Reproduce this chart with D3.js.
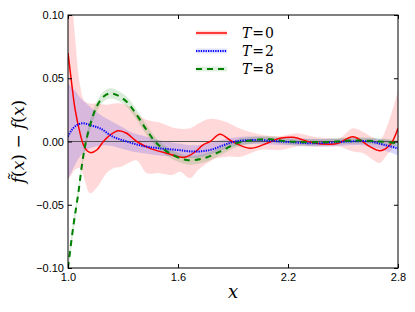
<!DOCTYPE html>
<html>
<head>
<meta charset="utf-8">
<script src="https://cdn.jsdelivr.net/npm/d3@7"></script>
<style>
  body { margin: 0; background: #fff; }
  .tick text { font-family: "Liberation Sans", Arial, sans-serif; font-size: 11px; fill: #000; }
  .tick line { stroke: #000; }
  .math { font-family: "DejaVu Serif", serif; }
</style>
</head>
<body>
<div id="chart"></div>
<script>
// tick values
const xTicks = [1.0, 1.6, 2.2, 2.8];
const yTicks = [-0.10, -0.05, 0.00, 0.05, 0.10];
const legendLabels = ["0", "2", "8"];

// T=0 (red) mean curve
const redX = [1.0, 1.02, 1.038, 1.065, 1.085, 1.105, 1.125, 1.157, 1.193, 1.229, 1.274, 1.32, 1.375, 1.447, 1.538, 1.602, 1.638, 1.693, 1.735, 1.775, 1.829, 1.895, 1.993, 2.075, 2.156, 2.227, 2.336, 2.429, 2.473, 2.555, 2.647, 2.702, 2.756, 2.8];
const redY = [0.070, 0.046, 0.026, 0.007, -0.003, -0.0075, -0.0088, -0.0067, 0.0, 0.005, 0.0085, 0.0065, 0.0, -0.0054, -0.0093, -0.012, -0.0125, -0.0083, -0.0028, 0.0, 0.0057, 0.0, -0.0054, -0.002, 0.0025, 0.0033, -0.001, -0.0022, -0.0015, 0.0038, -0.004, -0.0073, -0.0028, 0.0105];

// T=0 spread band
const redBandX = [1.0, 1.02, 1.04, 1.065, 1.09, 1.12, 1.16, 1.21, 1.25, 1.29, 1.33, 1.375, 1.43, 1.5, 1.57, 1.61, 1.665, 1.71, 1.76, 1.79, 1.81, 1.87, 1.94, 2.05, 2.16, 2.25, 2.34, 2.43, 2.48, 2.555, 2.61, 2.665, 2.70, 2.74, 2.78, 2.8];
const redHi = [0.14, 0.115, 0.08, 0.045, 0.032, 0.030, 0.030, 0.029, 0.030, 0.030, 0.028, 0.022, 0.017, 0.015, 0.011, 0.010, 0.0105, 0.014, 0.0175, 0.018, 0.0175, 0.015, 0.010, 0.0055, 0.0043, 0.0065, 0.0038, 0.0025, 0.0025, 0.0104, 0.0075, 0.003, 0.001, 0.012, 0.03, 0.04];
const redLo = [-0.030, -0.026, -0.022, -0.021, -0.03, -0.041, -0.036, -0.025, -0.021, -0.020, -0.017, -0.015, -0.025, -0.025, -0.0265, -0.024, -0.029, -0.0225, -0.017, -0.0145, -0.0133, -0.012, -0.012, -0.0067, -0.0067, -0.004, -0.004, -0.004, -0.004, -0.008, -0.0093, -0.0146, -0.017, -0.0107, -0.004, 0.001];

// T=2 (blue) mean curve
const blueX = [1.0, 1.02, 1.05, 1.085, 1.13, 1.175, 1.245, 1.32, 1.41, 1.50, 1.6, 1.69, 1.775, 1.85, 1.91, 2.02, 2.16, 2.34, 2.53, 2.65, 2.72, 2.8];
const blueY = [0.004, 0.009, 0.0132, 0.0144, 0.0125, 0.0104, 0.0038, 0.0, -0.0036, -0.0054, -0.0067, -0.008, -0.0067, -0.0028, 0.0, 0.0012, 0.0, -0.0014, 0.0, 0.0, -0.0025, -0.0054];

// T=2 spread band
const blueBandX = [1.0, 1.02, 1.04, 1.065, 1.1, 1.15, 1.2, 1.25, 1.3, 1.35, 1.4, 1.5, 1.6, 1.7, 1.8, 1.9, 2.0, 2.2, 2.4, 2.6, 2.7, 2.8];
const blueHi = [0.046, 0.043, 0.040, 0.035, 0.030, 0.024, 0.019, 0.015, 0.011, 0.007, 0.005, 0.001, -0.0015, -0.003, 0.0, 0.003, 0.004, 0.0025, 0.002, 0.0025, 0.002, 0.0];
const blueLo = [-0.030, -0.024, -0.018, -0.012, -0.007, -0.004, -0.003, -0.004, -0.006, -0.008, -0.009, -0.011, -0.012, -0.013, -0.009, -0.004, -0.002, -0.003, -0.004, -0.003, -0.006, -0.011];

// T=8 (green) mean curve and half width of its band
const greenX = [1.0, 1.029, 1.056, 1.08, 1.1, 1.129, 1.156, 1.193, 1.229, 1.265, 1.32, 1.375, 1.429, 1.484, 1.556, 1.647, 1.738, 1.829, 1.92, 2.011, 2.102, 2.211, 2.4, 2.55, 2.7, 2.8];
const greenY = [-0.100, -0.067, -0.041, -0.0146, 0.0012, 0.017, 0.0275, 0.0354, 0.038, 0.0368, 0.0315, 0.021, 0.009, -0.0014, -0.0093, -0.0146, -0.0133, -0.008, -0.0014, 0.0012, 0.0017, 0.0, -0.0005, 0.0008, 0.0, -0.0015];
const greenErr = [0.005, 0.005, 0.0045, 0.004, 0.004, 0.004, 0.004, 0.004, 0.004, 0.004, 0.004, 0.004, 0.004, 0.0035, 0.0035, 0.0035, 0.0035, 0.003, 0.003, 0.0025, 0.0025, 0.0025, 0.0025, 0.0025, 0.0025, 0.0025];

const W = 415, H = 312;
const margin = { top: 15, right: 17, bottom: 44, left: 68 };
const width = W - margin.left - margin.right;
const height = H - margin.top - margin.bottom;

const svg = d3.select("#chart").append("svg")
  .attr("width", W).attr("height", H);

const g = svg.append("g")
  .attr("transform", `translate(${margin.left},${margin.top})`);

const x = d3.scaleLinear().domain([1.0, 2.8]).range([0, width]);
const y = d3.scaleLinear().domain([-0.10, 0.10]).range([height, 0]);

g.append("defs").append("clipPath").attr("id", "clip")
  .append("rect").attr("width", width).attr("height", height);

const plot = g.append("g").attr("clip-path", "url(#clip)");

const curve = d3.curveCatmullRom.alpha(0.5);

const zip = (xs, ys) => xs.map((v, i) => [v, ys[i]]);
const zip3 = (xs, lo, hi) => xs.map((v, i) => [v, lo[i], hi[i]]);

const line = d3.line().x(d => x(d[0])).y(d => y(d[1])).curve(curve);
const area = d3.area().x(d => x(d[0])).y0(d => y(d[1])).y1(d => y(d[2])).curve(curve);

// bands
plot.append("path")
  .attr("d", area(zip3(redBandX, redLo, redHi)))
  .attr("fill", "red").attr("fill-opacity", 0.15);
plot.append("path")
  .attr("d", area(zip3(blueBandX, blueLo, blueHi)))
  .attr("fill", "blue").attr("fill-opacity", 0.15);
plot.append("path")
  .attr("d", area(greenX.map((v, i) => [v, greenY[i] - greenErr[i], greenY[i] + greenErr[i]])))
  .attr("fill", "green").attr("fill-opacity", 0.15);

// zero line
plot.append("line")
  .attr("x1", 0).attr("x2", width)
  .attr("y1", y(0)).attr("y2", y(0))
  .attr("stroke", "#555").attr("stroke-width", 1.2);

// curves
plot.append("path")
  .attr("d", line(zip(redX, redY)))
  .attr("fill", "none").attr("stroke", "#ff0000").attr("stroke-width", 1.5);
plot.append("path")
  .attr("d", line(zip(blueX, blueY)))
  .attr("fill", "none").attr("stroke", "#0000ff").attr("stroke-width", 2)
  .attr("stroke-dasharray", "1.3,1.1");
plot.append("path")
  .attr("d", line(zip(greenX, greenY)))
  .attr("fill", "none").attr("stroke", "#008000").attr("stroke-width", 2)
  .attr("stroke-dasharray", "6,5");

// axes with inward ticks
g.append("g")
  .attr("transform", `translate(0,${height})`)
  .call(d3.axisBottom(x).tickValues(xTicks).tickFormat(d3.format(".1f"))
    .tickSizeInner(-4).tickSizeOuter(0).tickPadding(5))
  .call(s => s.select(".domain").remove());
g.append("g")
  .call(d3.axisTop(x).tickValues(xTicks).tickFormat("")
    .tickSizeInner(-4).tickSizeOuter(0))
  .call(s => s.select(".domain").remove());
g.append("g")
  .call(d3.axisLeft(y).tickValues(yTicks).tickFormat(d3.format(".2f"))
    .tickSizeInner(-4).tickSizeOuter(0).tickPadding(4))
  .call(s => s.select(".domain").remove());
g.append("g")
  .attr("transform", `translate(${width},0)`)
  .call(d3.axisRight(y).tickValues(yTicks).tickFormat("")
    .tickSizeInner(-4).tickSizeOuter(0))
  .call(s => s.select(".domain").remove());

// frame
g.append("rect")
  .attr("width", width).attr("height", height)
  .attr("fill", "none").attr("stroke", "#000").attr("stroke-width", 1);

// legend
const legendColors = ["#ff0000", "#0000ff", "#008000"];
const legendDash = [null, "1.3,1.1", "6,5"];
const legendW = [1.5, 2, 2];
const leg = g.append("g").attr("transform", "translate(128,18)");
legendLabels.forEach((lab, i) => {
  const row = leg.append("g").attr("transform", `translate(0,${i * 18})`);
  row.append("rect")
    .attr("x", 0).attr("y", -2.5).attr("width", 31).attr("height", 5)
    .attr("fill", legendColors[i]).attr("fill-opacity", 0.12);
  row.append("line")
    .attr("x1", 0).attr("x2", 31)
    .attr("stroke", legendColors[i]).attr("stroke-width", legendW[i])
    .attr("stroke-dasharray", legendDash[i]);
  const t = row.append("text").attr("class", "math")
    .attr("x", 46).attr("y", 5)
    .attr("font-size", 14);
  t.append("tspan").attr("font-style", "italic").text("T");
  t.append("tspan").attr("dx", 1).text("=");
  t.append("tspan").attr("dx", 1).text(lab);
});

// axis labels
svg.append("text").attr("class", "math")
  .attr("x", margin.left + width / 2).attr("y", 298)
  .attr("text-anchor", "middle")
  .attr("font-size", 18)
  .attr("font-style", "italic")
  .text("x");

const yl = svg.append("text").attr("class", "math")
  .attr("transform", `translate(24,${margin.top + height / 2}) rotate(-90)`)
  .attr("text-anchor", "middle")
  .attr("font-size", 17);
yl.append("tspan").attr("font-style", "italic").text("f\u0303");
yl.append("tspan").text("(");
yl.append("tspan").attr("font-style", "italic").text("x");
yl.append("tspan").text(") \u2212 ");
yl.append("tspan").attr("font-style", "italic").text("f");
yl.append("tspan").text("(");
yl.append("tspan").attr("font-style", "italic").text("x");
yl.append("tspan").text(")");
</script>
</body>
</html>
